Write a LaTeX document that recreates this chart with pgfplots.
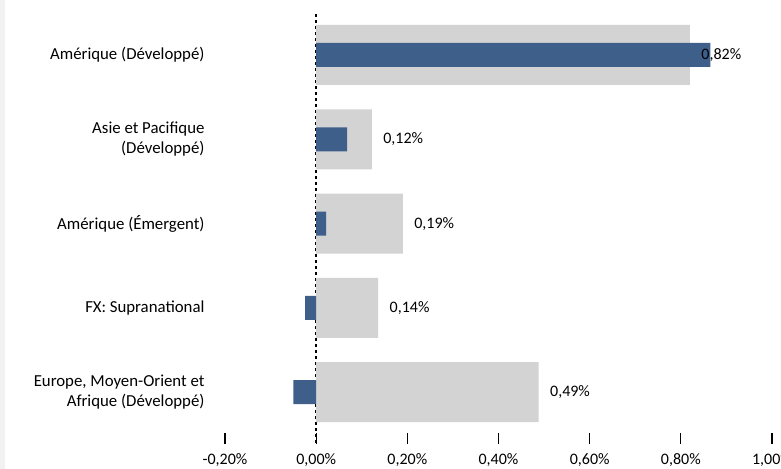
\documentclass[border=0pt]{standalone}
\usepackage{fontspec}
\setmainfont{Carlito}
\usepackage{pgfplots}
\pgfplotsset{compat=1.18}
\definecolor{barblue}{HTML}{3E5F8A}
\definecolor{bargrey}{HTML}{D3D3D3}
\definecolor{stripgrey}{HTML}{F2F2F2}
\begin{document}
\fontsize{16bp}{19.5bp}\selectfont
\begin{tikzpicture}
\path[use as bounding box] (0,0) rectangle (781bp,469bp);
\fill[stripgrey] (0,0) rectangle (5bp,469bp);
\begin{axis}[
  at={(225bp,25bp)}, anchor=south west,
  scale only axis, width=547bp, height=430bp,
  xmin=-0.2, xmax=1.0, ymin=-0.486, ymax=4.614,
  y dir=reverse,
  axis line style={draw=none},
  xtick={-0.2,0,0.2,0.4,0.6,0.8,1.0},
  xticklabels={-0{,}20\%,0{,}00\%,0{,}20\%,0{,}40\%,0{,}60\%,0{,}80\%,1{,}00\%},
  xtick pos=bottom, tick align=inside,
  major tick length=11bp,
  x tick style={black, line width=1.3bp},
  xticklabel style={font=\fontsize{16bp}{19.5bp}\selectfont, yshift=-4bp},
  ytick={0,1,2,3,4},
  yticklabels={Amérique (Développé),Asie et Pacifique\\(Développé),Amérique (Émergent),FX: Supranational,{Europe, Moyen-Orient et}\\Afrique (Développé)},
  yticklabel style={align=right, font=\fontsize{16.8bp}{20.5bp}\selectfont, xshift=-15bp},
  y tick style={draw=none},
  clip=false,
]
\addplot[black, dashed, line width=1.5bp, dash pattern=on 3bp off 3bp] coordinates {(0,-0.486) (0,4.614)};
\addplot[xbar, bar width=60bp, bar shift=0pt, fill=bargrey, draw=none] coordinates {
(0.82,0) (0.122,1) (0.19,2) (0.136,3) (0.488,4)};
\addplot[xbar, bar width=24bp, bar shift=0pt, fill=barblue, draw=none] coordinates {
(0.865,0) (0.068,1) (0.022,2) (-0.024,3) (-0.05,4)};
\addplot[draw=none, mark=none, point meta=explicit,
  nodes near coords={\pgfmathprintnumber[fixed,fixed zerofill,precision=2,use comma,assume math mode=true]{\pgfplotspointmeta}\%},
  nodes near coords style={anchor=west, xshift=6bp, font=\fontsize{16bp}{19.5bp}\selectfont, text=black}]
coordinates {
(0.82,0) [0.82] (0.122,1) [0.12] (0.19,2) [0.19] (0.136,3) [0.14] (0.488,4) [0.49]};
\end{axis}
\end{tikzpicture}
\end{document}
